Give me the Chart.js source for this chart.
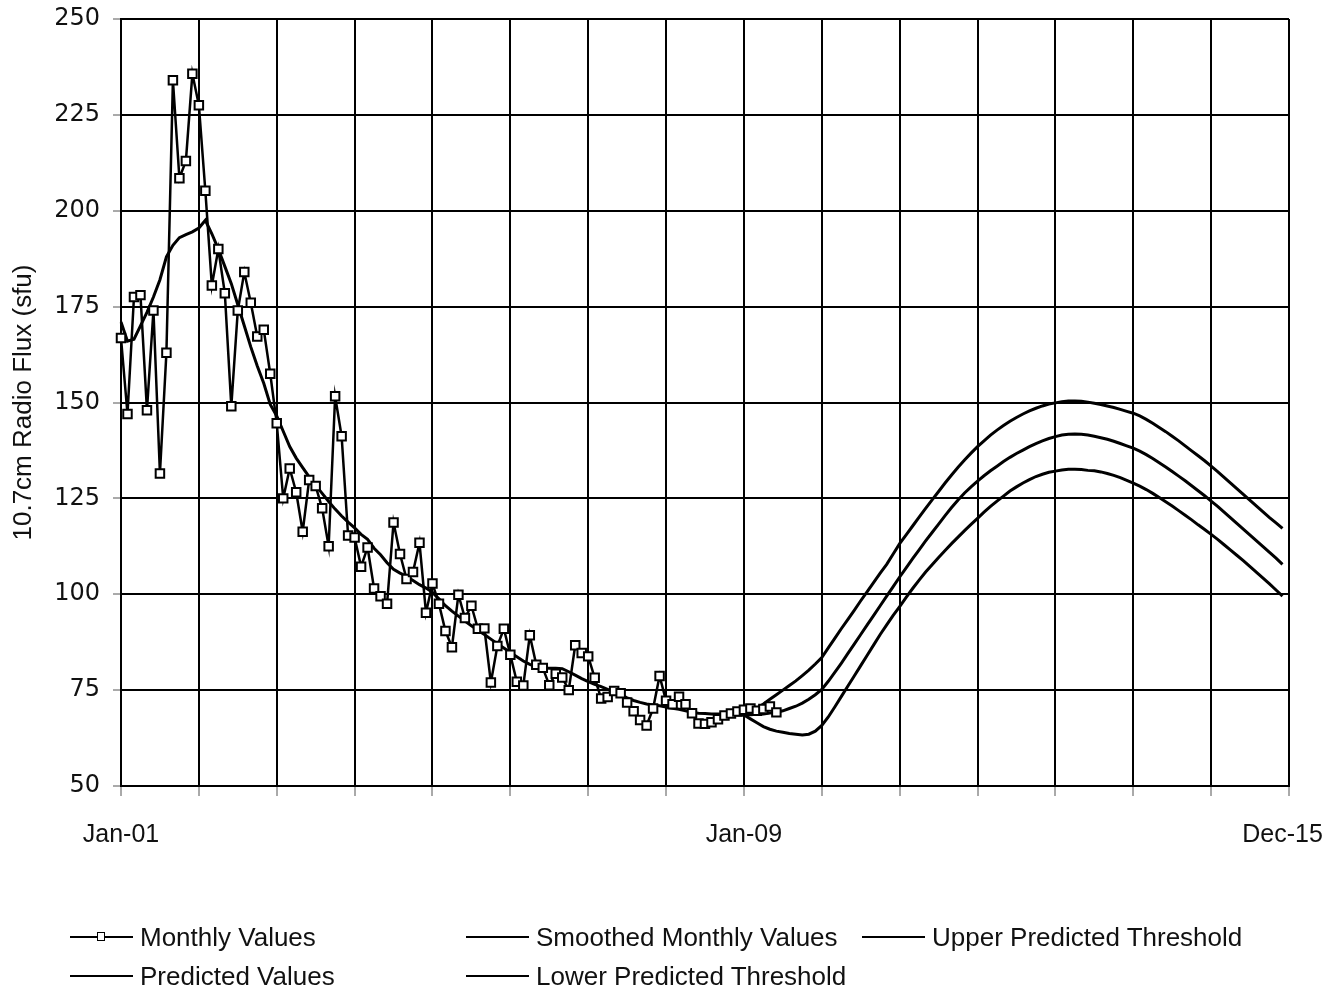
<!DOCTYPE html>
<html>
<head>
<meta charset="utf-8">
<script src="https://cdn.jsdelivr.net/npm/chart.js@4/dist/chart.umd.min.js"></script>
<style>
  html, body { margin: 0; padding: 0; background: #fff; }
  #wrap { position: relative; width: 1340px; height: 992px; }
  #legend { position: absolute; left: 0; top: 0; width: 1340px; height: 992px; pointer-events: none;
            font-family: "Liberation Sans", Arial, sans-serif; font-size: 26px; color: #111; }
  .item { position: absolute; height: 30px; line-height: 30px; white-space: nowrap; }
  .swatch { position: absolute; left: 0; top: 14px; width: 63px; border-top: 2.5px solid #000; }
  .mark { position: absolute; left: 27px; top: 10px; width: 6px; height: 7px; background: #fff; border: 1.5px solid #000; }
  .txt { position: absolute; left: 70px; top: 0; }
</style>
</head>
<body>
<div id="wrap">
  <canvas id="fluxChart" width="1340" height="992"></canvas>
  <div id="legend"></div>
</div>
<script>
// ===============================
// Categories: months Jan-01 .. Jan-16
// ===============================
const monthNames = ["Jan","Feb","Mar","Apr","May","Jun","Jul","Aug","Sep","Oct","Nov","Dec"];
const yearLabels = ["01","02","03","04","05","06","07","08","09","10","11","12","13","14","15","16"];
const shownTicks = [0, 96, 179];

// observed monthly values, starting Jan-01
const monthlyValues = [
  166.8, 147, 177.5, 178, 148, 174, 131.5, 163, 234, 208.5, 213, 235.7,
  227.5, 205.2, 180.5, 190, 178.5, 149, 174, 184, 176, 167.2, 169, 157.5,
  144.6, 125, 132.8, 126.6, 116.3, 129.8, 128.2, 122.4, 112.5, 151.6, 141.2, 115.3,
  114.8, 107.2, 112.2, 101.5, 99.5, 97.5, 118.7, 110.5, 104, 105.8, 113.4, 95.2,
  102.8, 97.5, 90.4, 86.2, 99.9, 93.8, 97, 91, 91.1, 77, 86.5, 91,
  84.2, 77.2, 76.2, 89.3, 81.6, 80.8, 76.3, 79.3, 78.3, 75, 86.7, 84.7,
  83.8, 78.2, 72.8, 73.2, 74.8, 74.2, 71.8, 69.5, 67.2, 65.8, 70.2, 78.7,
  72.2, 71.3, 73.3, 71.3, 69, 66.3, 66.2, 66.6, 67.4, 68.4, 68.9, 69.4,
  69.9, 70.2, 69.6, 70.1, 70.7, 69.2
];

// smoothed monthly values, starting Jan-01
const smoothedValues = [
  171, 166, 166.5, 170, 173.5, 177.5, 182, 188, 191, 193, 193.8, 194.5,
  195.5, 197.5, 194, 190, 185.5, 181, 175.5, 170, 164.5, 159.5, 155, 149.5,
  146.5, 142.5, 138.5, 135.5, 133, 130.6, 128.4, 126.3, 124.2, 122.2, 120.4, 118.8,
  117.3, 115.6, 114.3, 112, 110.3, 108.2, 106.5, 105.5, 104.7, 103.6, 102.5, 101.6,
  100.5, 98.8, 97, 95.6, 94.3, 93, 91.8, 90.6, 89.5, 88.3, 87.1, 86,
  84.8, 83.7, 82.6, 81.7, 81.1, 80.8, 80.7, 80.7, 80.6, 79.8, 78.9, 78,
  77.2, 76.5, 75.9, 75.2, 74.5, 73.8, 73, 72.3, 71.8, 71.4, 71.1, 70.9,
  70.6, 70.3, 70, 69.6, 69.2, 69, 68.9, 68.8, 68.8, 68.7, 68.6, 68.5,
  68.5
];

// predictions start at Jan-09 (index 96)
const predStart = 96;
const predictedValues = [
  68.5, 68.6, 68.7, 68.8, 69, 69.2, 69.6, 70.2, 70.8, 71.6,
  72.6, 73.8, 75.2, 77.3, 79.6, 82, 84.5, 87, 89.5, 92,
  94.5, 97, 99.5, 102, 104.5, 106.9, 109.3, 111.6, 113.9, 116.1,
  118.3, 120.5, 122.6, 124.6, 126.4, 128, 129.5, 130.9, 132.2, 133.4,
  134.6, 135.7, 136.7, 137.6, 138.5, 139.3, 140, 140.6, 141.1, 141.5,
  141.7, 141.8, 141.7, 141.5, 141.2, 140.8, 140.4, 139.9, 139.3, 138.7,
  138.1, 137.3, 136.4, 135.4, 134.3, 133.2, 132, 130.8, 129.6, 128.3,
  127, 125.7, 124.3, 122.9, 121.4, 119.9, 118.4, 116.9, 115.4, 113.9,
  112.4, 110.9, 109.4, 107.8
];
const upperValues = [
  68.5, 69.3, 70.3, 71.4, 72.6, 73.8, 75, 76.2, 77.4, 78.8,
  80.2, 81.8, 83.5, 86, 88.5, 91, 93.4, 95.8, 98.3, 100.7,
  103.1, 105.5, 107.8, 110.5, 113.2, 115.5, 117.8, 120.1, 122.4, 124.6,
  126.8, 129, 131.1, 133.1, 135, 136.8, 138.5, 140, 141.5, 142.8,
  144, 145.1, 146.1, 147, 147.8, 148.5, 149.1, 149.6, 149.9, 150.2,
  150.4, 150.4, 150.3, 150.1, 149.8, 149.5, 149.1, 148.7, 148.2, 147.7,
  147.2, 146.5, 145.6, 144.6, 143.5, 142.4, 141.2, 140, 138.7, 137.4,
  136.1, 134.8, 133.4, 132, 130.5, 129, 127.5, 126, 124.5, 123,
  121.5, 120, 118.6, 117.2
];
const lowerValues = [
  68.5, 67.5, 66.5, 65.5, 64.8, 64.3, 64, 63.7, 63.5, 63.3,
  63.5, 64.3, 65.8, 68, 70.6, 73.3, 76, 78.7, 81.4, 84.1,
  86.8, 89.5, 92, 94.5, 96.8, 99.2, 101.5, 103.7, 105.8, 107.7,
  109.6, 111.4, 113.2, 114.9, 116.6, 118.2, 119.8, 121.4, 122.9, 124.3,
  125.6, 126.9, 128, 129, 129.9, 130.7, 131.3, 131.8, 132.1, 132.4,
  132.6, 132.6, 132.5, 132.3, 132.2, 131.9, 131.5, 131, 130.4, 129.7,
  129, 128.2, 127.3, 126.3, 125.2, 124.1, 123, 121.8, 120.6, 119.4,
  118.1, 116.9, 115.6, 114.3, 112.9, 111.5, 110.1, 108.7, 107.2, 105.7,
  104.2, 102.7, 101.1, 99.5
];

// 181 category labels, Jan-01 .. Jan-16 (last one only closes the axis)
const labels = [];
yearLabels.forEach((yr, y) => {
    monthNames.forEach(m => {
        if (y < 15 || m === "Jan") labels.push(`${m}-${yr}`);
    });
});

const padTo = (arr, start) => labels.map((_, i) => {
    const k = i - start;
    return (k >= 0 && k < arr.length) ? arr[k] : null;
});

const isYear = ctx => ctx.index % 12 === 0;

Chart.defaults.font.family = '"Liberation Sans", Arial, sans-serif';
Chart.defaults.color = '#111';

new Chart(document.getElementById("fluxChart"), {
    type: "line",
    data: {
        labels: labels,
        datasets: [
            {
                label: "Monthly Values",
                data: padTo(monthlyValues, 0),
                borderColor: "#000",
                borderWidth: 2.5,
                pointStyle: "rect",
                pointRadius: 6,
                pointBackgroundColor: "#fff",
                pointBorderColor: "#000",
                pointBorderWidth: 2,
                order: 0
            },
            {
                label: "Smoothed Monthly Values",
                data: padTo(smoothedValues, 0),
                borderColor: "#000",
                borderWidth: 3,
                pointRadius: 0,
                order: 1
            },
            {
                label: "Predicted Values",
                data: padTo(predictedValues, predStart),
                borderColor: "#000",
                borderWidth: 3,
                pointRadius: 0,
                order: 2
            },
            {
                label: "Upper Predicted Threshold",
                data: padTo(upperValues, predStart),
                borderColor: "#000",
                borderWidth: 3,
                pointRadius: 0,
                order: 3
            },
            {
                label: "Lower Predicted Threshold",
                data: padTo(lowerValues, predStart),
                borderColor: "#000",
                borderWidth: 3,
                pointRadius: 0,
                order: 4
            }
        ]
    },
    options: {
        responsive: false,
        animation: false,
        devicePixelRatio: 1,
        layout: {
            padding: { top: 19, right: 51, bottom: 0, left: 0 }
        },
        scales: {
            x: {
                grid: {
                    color: ctx => isYear(ctx) ? "#000" : "rgba(0,0,0,0)",
                    lineWidth: ctx => isYear(ctx) ? 2 : 0,
                    tickColor: ctx => isYear(ctx) ? "#555" : "rgba(0,0,0,0)",
                    tickWidth: 1,
                    tickLength: 10
                },
                border: { display: true, color: "#000", width: 2 },
                ticks: {
                    autoSkip: false,
                    maxRotation: 0,
                    minRotation: 0,
                    padding: 24,
                    font: { size: 25 },
                    color: "#111",
                    callback: (value, index) => shownTicks.includes(index) ? labels[index] : ""
                },
                afterFit: scale => {
                    scale.height = 206;
                    scale.paddingLeft = 0;
                    scale.paddingRight = 0;
                }
            },
            y: {
                min: 50,
                max: 250,
                grid: {
                    color: "#000",
                    lineWidth: 2,
                    tickColor: "#555",
                    tickWidth: 1,
                    tickLength: 8
                },
                border: { display: true, color: "#000", width: 2 },
                ticks: {
                    stepSize: 25,
                    padding: 13,
                    font: { family: '"DejaVu Sans", sans-serif', size: 24 },
                    color: "#111"
                },
                title: {
                    display: true,
                    text: "10.7cm Radio Flux (sfu)",
                    font: { size: 26 },
                    color: "#111",
                    padding: { top: 8, bottom: 0 }
                },
                afterFit: scale => {
                    scale.width = 121;
                    scale.paddingTop = 0;
                    scale.paddingBottom = 0;
                }
            }
        },
        plugins: {
            legend: { display: false },
            tooltip: { enabled: false }
        }
    }
});

// ===============================
// Legend laid out in columns, like the original
// ===============================
const legendItems = [
    { text: "Monthly Values", x: 70, y: 922, marker: true },
    { text: "Smoothed Monthly Values", x: 466, y: 922 },
    { text: "Upper Predicted Threshold", x: 862, y: 922 },
    { text: "Predicted Values", x: 70, y: 961 },
    { text: "Lower Predicted Threshold", x: 466, y: 961 }
];
const legendBox = document.getElementById("legend");
legendItems.forEach(it => {
    const d = document.createElement("div");
    d.className = "item";
    d.style.left = it.x + "px";
    d.style.top = it.y + "px";
    d.innerHTML = '<span class="swatch"></span>' +
        (it.marker ? '<span class="mark"></span>' : '') +
        '<span class="txt">' + it.text + '</span>';
    legendBox.appendChild(d);
});
</script>
</body>
</html>
